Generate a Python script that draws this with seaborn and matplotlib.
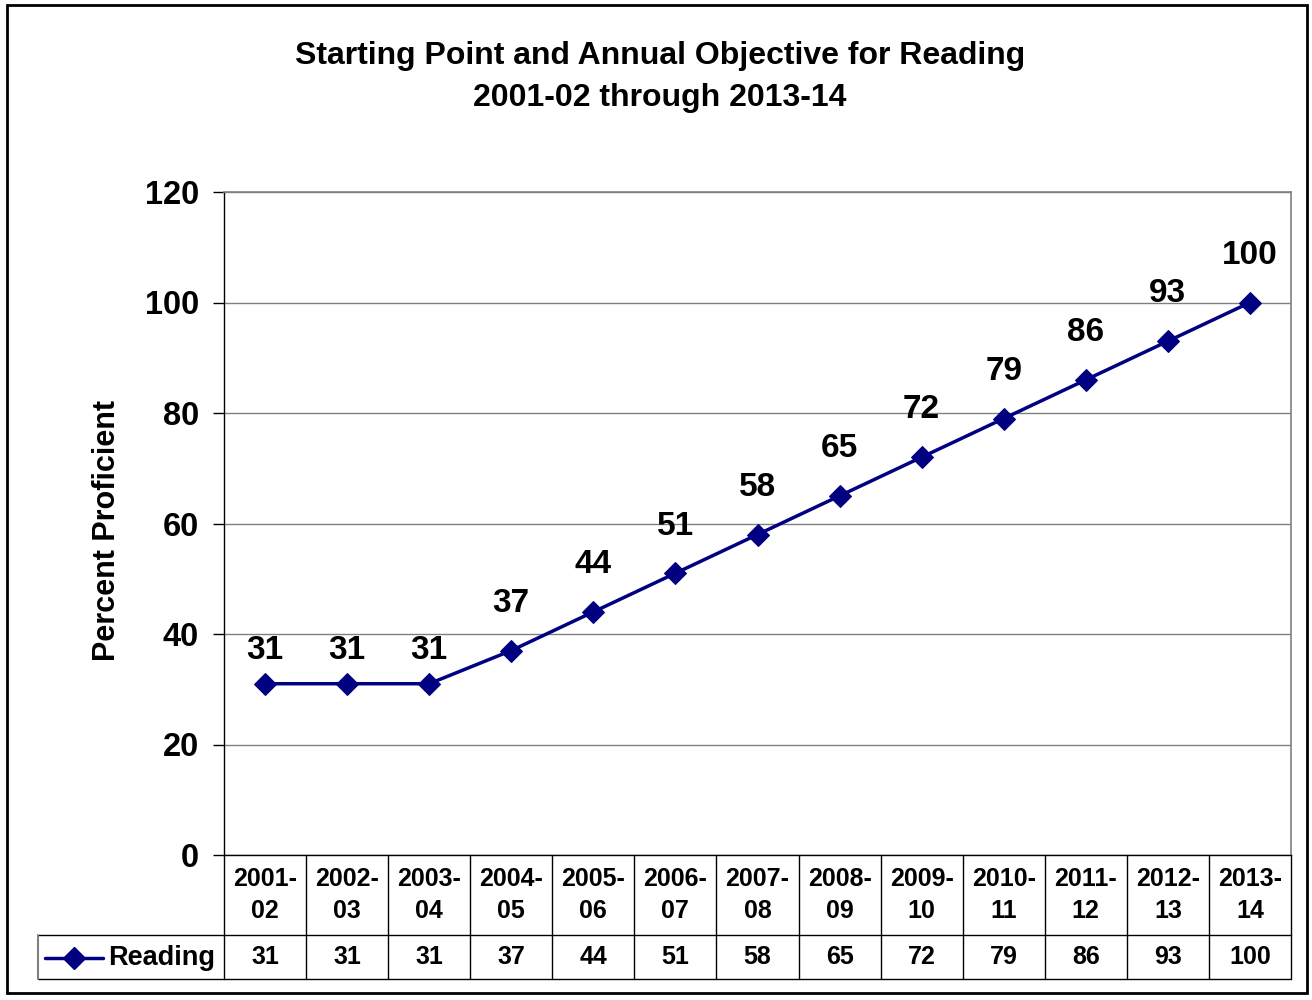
import matplotlib
matplotlib.use("Agg")
import matplotlib.pyplot as plt
import matplotlib.transforms as mtransforms
from matplotlib.lines import Line2D
from matplotlib.patches import Rectangle
import seaborn as sns
import pandas as pd

# ---- data ----
years = ["2001-02", "2002-03", "2003-04", "2004-05", "2005-06", "2006-07", "2007-08",
         "2008-09", "2009-10", "2010-11", "2011-12", "2012-13", "2013-14"]
reading = [31, 31, 31, 37, 44, 51, 58, 65, 72, 79, 86, 93, 100]
series_name = "Reading"
title_lines = ["Starting Point and Annual Objective for Reading", "2001-02 through 2013-14"]
y_label = "Percent Proficient"
y_ticks = [0, 20, 40, 60, 80, 100, 120]

df = pd.DataFrame({"year": years, "value": reading})

sns.set_theme(style="white")
plt.rcParams["font.family"] = ["Liberation Sans", "DejaVu Sans"]
plt.rcParams["font.weight"] = "bold"
plt.rcParams["text.color"] = "black"
plt.rcParams["axes.labelcolor"] = "black"
plt.rcParams["ytick.color"] = "black"
plt.rcParams["xtick.color"] = "black"

W, H = 1312, 1000
fig = plt.figure(figsize=(W / 100, H / 100), dpi=100)
fig.patch.set_facecolor("white")

# axes placement (pixels)
ax_l, ax_r, ax_t, ax_b = 224, 1291, 192, 855
ax = fig.add_axes([ax_l / W, 1 - ax_b / H, (ax_r - ax_l) / W, (ax_b - ax_t) / H])

navy = "#000080"
msize = 11
lw_line = 2.5
sns.lineplot(data=df, x="year", y="value", sort=False, ax=ax, color=navy,
             linewidth=lw_line, marker="D", markersize=msize, markeredgecolor=navy,
             markerfacecolor=navy, legend=False)

ax.set_xlim(-0.5, len(years) - 0.5)
ax.set_ylim(0, 120)
ax.set_yticks(y_ticks)
ax.set_yticklabels([str(t) for t in y_ticks], fontsize=23.5, fontweight="bold", color="black")
ax.set_xticks([])
ax.set_xlabel("")
ax.set_ylabel(y_label, fontsize=22, fontweight="bold", labelpad=0, color="black")
ax.yaxis.set_label_coords((122 - ax_l) / (ax_r - ax_l), 0.49)
ax.tick_params(axis="y", direction="out", length=8, width=1, color="black", pad=10,
               left=True)
ax.grid(axis="y", color="#808080", linewidth=1)
ax.set_axisbelow(True)
for side in ["top", "right"]:
    ax.spines[side].set_color("#808080")
    ax.spines[side].set_linewidth(1.2)
for side in ["left", "bottom"]:
    ax.spines[side].set_color("black")
    ax.spines[side].set_linewidth(1.0)

# data labels
for i, v in enumerate(reading):
    flat = (i > 0 and reading[i - 1] == v) or (i < len(reading) - 1 and reading[i + 1] == v)
    off = 24 if flat else 34
    ax.annotate(str(v), (i, v), xytext=(0, off), textcoords="offset points",
                ha="center", va="center", fontsize=24, fontweight="bold", color="black")

# ---- data table below plot ----
ah = ax_b - ax_t
row1_b = -(935 - ax_b) / ah
row2_b = -(979 - ax_b) / ah
blend = mtransforms.blended_transform_factory(ax.transData, ax.transAxes)
n = len(years)
lw_tab = 1.0
for k in range(n + 1):
    ax.add_line(Line2D([k - 0.5, k - 0.5], [0, row2_b], transform=blend, color="black",
                       linewidth=lw_tab, clip_on=False))
for yy in [row1_b, row2_b]:
    ax.add_line(Line2D([-0.5, n - 0.5], [yy, yy], transform=blend, color="black",
                       linewidth=lw_tab, clip_on=False))
for i, (yr, v) in enumerate(zip(years, reading)):
    a, b = yr.split("-")
    ax.text(i, (0 + row1_b) / 2, a + "-\n" + b, transform=blend, ha="center", va="center",
            fontsize=18, fontweight="bold", linespacing=1.4, color="black")
    ax.text(i, (row1_b + row2_b) / 2, str(v), transform=blend, ha="center", va="center",
            fontsize=18, fontweight="bold", color="black")

# legend cell (figure pixel coords)
def fx(px):
    return px / W

def fy(py):
    return 1 - py / H

fig.add_artist(Line2D([fx(38), fx(ax_l)], [fy(935), fy(935)], transform=fig.transFigure,
                      color="black", linewidth=lw_tab))
fig.add_artist(Line2D([fx(38), fx(ax_l)], [fy(979), fy(979)], transform=fig.transFigure,
                      color="black", linewidth=lw_tab))
fig.add_artist(Line2D([fx(38), fx(38)], [fy(935), fy(979)], transform=fig.transFigure,
                      color="#808080", linewidth=1.5))
fig.add_artist(Line2D([fx(45), fx(103)], [fy(958), fy(958)], transform=fig.transFigure,
                      color=navy, linewidth=lw_line))
fig.add_artist(Line2D([fx(74)], [fy(958)], transform=fig.transFigure, color=navy,
                      marker="D", markersize=msize, markerfacecolor=navy, markeredgecolor=navy))
fig.text(fx(108), fy(958), series_name, ha="left", va="center", fontsize=19.5,
         fontweight="bold", color="black")

# title
fig.text(fx(660), fy(56), title_lines[0], ha="center", va="center", fontsize=23,
         fontweight="bold", color="black")
fig.text(fx(660), fy(98), title_lines[1], ha="center", va="center", fontsize=23,
         fontweight="bold", color="black")

# outer border
fig.add_artist(Rectangle((fx(7), fy(993)), fx(1307) - fx(7), fy(5) - fy(993),
                         transform=fig.transFigure, fill=False, edgecolor="black",
                         linewidth=2.0))

fig.savefig("out.png", dpi=100)
